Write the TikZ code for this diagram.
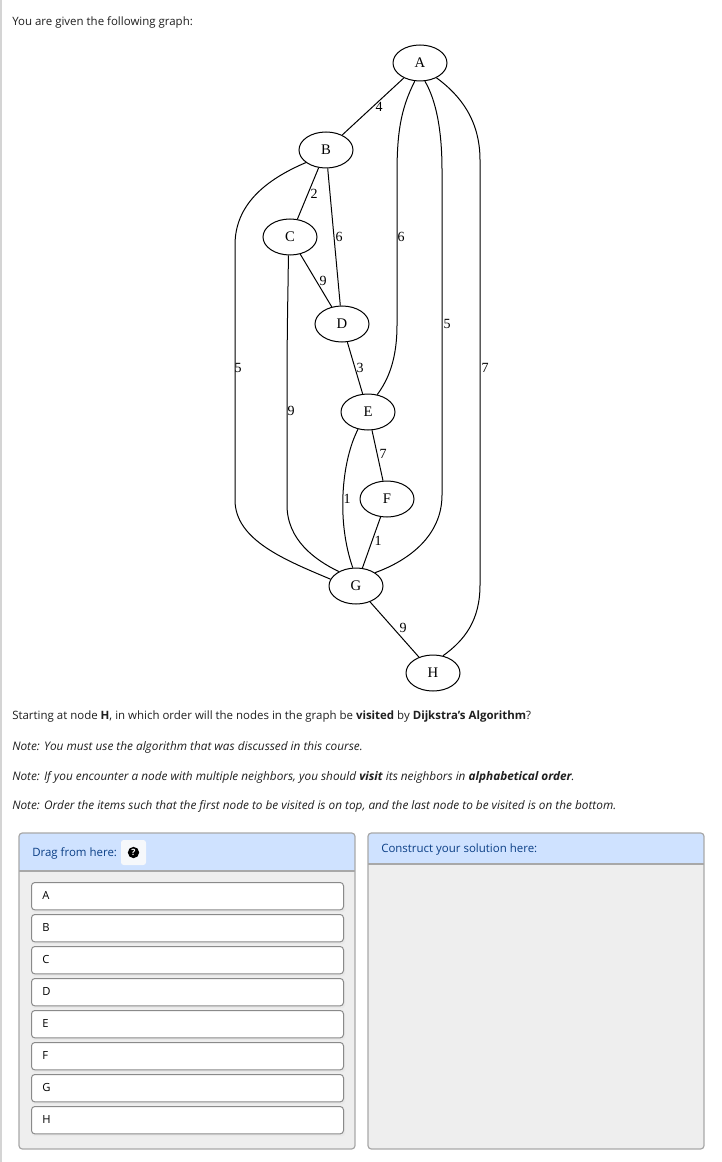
\documentclass[tikz,border=0pt]{standalone}
\usepackage{fontspec}
\setmainfont{Open Sans}
\newfontfamily\graphfont{Liberation Serif}
\usetikzlibrary{shapes.geometric}
\definecolor{headblue}{HTML}{CFE2FF}
\definecolor{headtext}{HTML}{0B3F86}
\definecolor{panelgray}{HTML}{EEEEEE}
\definecolor{panelborder}{HTML}{A8A8A8}
\definecolor{itemborder}{HTML}{8A8A8A}
\definecolor{pageline}{HTML}{D4D4D4}
\definecolor{btnbg}{HTML}{F6F8FB}
\begin{document}
\begin{tikzpicture}[x=0.75pt,y=-0.75pt,
  every node/.style={inner sep=0pt},
  uitext/.style={font=\fontsize{8.6}{10.5}\selectfont, text=black!88, anchor=west},
  notetext/.style={font=\fontsize{8.85}{10.5}\selectfont\itshape, text=black!88, anchor=west},
  gnode/.style={ellipse, draw, line width=0.75pt, minimum width=40.5pt, minimum height=27pt, font=\graphfont\fontsize{11}{12}\selectfont},
  gedge/.style={line width=0.75pt},
  elab/.style={font=\graphfont\fontsize{10.5}{12}\selectfont},
  item/.style={draw=itemborder, fill=white, rounded corners=2.5pt, line width=0.75pt, minimum width=234pt, minimum height=20.5pt},
  itemtext/.style={font=\fontsize{8.4}{10}\selectfont, anchor=west},
  headlabel/.style={font=\fontsize{8.6}{10.5}\selectfont, text=headtext, anchor=west}
]
\useasboundingbox (0,0) rectangle (721,1162);
\fill[white] (0,0) rectangle (721,1162);
\draw[pageline, line width=1.5pt] (1,0) -- (1,1162);

\node[uitext] (intro) at (12,22) {You are given the following graph:};

% graph nodes
\node[gnode] (A) at (420,63) {A};
\node[gnode] (B) at (326,150) {B};
\node[gnode] (C) at (290,237) {C};
\node[gnode] (D) at (342,324) {D};
\node[gnode] (E) at (368,412) {E};
\node[gnode] (F) at (387,499) {F};
\node[gnode] (G) at (356,586) {G};
\node[gnode] (H) at (433,673) {H};

% straight edges
\draw[gedge] (A) -- (B);
\draw[gedge] (B) -- (C);
\draw[gedge] (B) -- (D);
\draw[gedge] (C) -- (D);
\draw[gedge] (D) -- (E);
\draw[gedge] (E) -- (F);
\draw[gedge] (F) -- (G);
\draw[gedge] (G) -- (H);
% curved edges
\draw[gedge] (A.254) .. controls (400,110) and (397,135) .. (397,175) -- (397,325) .. controls (397,360) and (388,380) .. (E.62);
\draw[gedge] (A.285) .. controls (436,100) and (442,130) .. (442,170) -- (442,495) .. controls (442,535) and (410,560) .. (G.35);
\draw[gedge] (A.318) .. controls (460,95) and (480,120) .. (480,160) -- (480,585) .. controls (480,620) and (465,640) .. (H.60);
\draw[gedge] (B.212) .. controls (265,180) and (235,205) .. (235,245) -- (235,500) .. controls (235,540) and (285,560) .. (G.165);
\draw[gedge] (C.265) .. controls (288,300) and (287,320) .. (287,400) -- (287,505) .. controls (287,540) and (315,560) .. (G.140);
\draw[gedge] (E.240) .. controls (342,460) and (336,520) .. (G.100);

% edge labels
\node[elab] (lAB) at (379,107) {4};
\node[elab] (lBC) at (314,194) {2};
\node[elab] (lBD) at (339,237) {6};
\node[elab] (lAE) at (401,237) {6};
\node[elab] (lCD) at (323,281) {9};
\node[elab] (lAG) at (447,324) {5};
\node[elab] (lBG) at (238,368) {5};
\node[elab] (lDE) at (360,368) {3};
\node[elab] (lAH) at (485,368) {7};
\node[elab] (lCG) at (291,411) {9};
\node[elab] (lEF) at (383,454) {7};
\node[elab] (lEG) at (347,499) {1};
\node[elab] (lFG) at (378,541) {1};
\node[elab] (lGH) at (403,628) {9};

% question text
\node[uitext] (q1) at (12,717) {Starting at node \textbf{H}, in which order will the nodes in the graph be \textbf{visited} by \textbf{Dijkstra's Algorithm}?};
\node[notetext] (q2) at (12,747) {Note: You must use the algorithm that was discussed in this course.};
\node[notetext] (q3) at (12,777) {Note: If you encounter a node with multiple neighbors, you should \textbf{visit} its neighbors in \textbf{alphabetical order}.};
\node[notetext] (q4) at (12,806) {Note: Order the items such that the first node to be visited is on top, and the last node to be visited is on the bottom.};

% left panel
\begin{scope}
  \clip[rounded corners=2.5pt] (19,833) rectangle (355,1149);
  \fill[panelgray] (19,833) rectangle (355,1149);
  \fill[headblue] (19,833) rectangle (355,871);
\end{scope}
\draw[panelborder, line width=0.9pt] (19,871) -- (355,871);
\draw[panelborder, line width=0.9pt, rounded corners=2.5pt] (19,833) rectangle (355,1149);
\node[headlabel] (drag) at (32,853) {Drag from here:};
\fill[btnbg, rounded corners=2pt] (121,840) rectangle (146,865);
\node[circle, fill=black, minimum size=8.5pt, text=white, font=\bfseries\fontsize{6.5}{7}\selectfont] (help) at (133.5,852.5) {?};

\foreach \t [count=\i from 0] in {A,B,C,D,E,F,G,H} {
  \fill[black!9, rounded corners=2pt] (32,885+32*\i) rectangle (345,912+32*\i);
  \node[item, anchor=north west] (box\t) at (31,882+32*\i) {};
  \node[itemtext] (txt\t) at (42,895.5+32*\i) {\t};
}

% right panel
\begin{scope}
  \clip[rounded corners=2.5pt] (368,833) rectangle (704,1149);
  \fill[panelgray] (368,833) rectangle (704,1149);
  \fill[headblue] (368,833) rectangle (704,864);
\end{scope}
\draw[panelborder, line width=0.9pt] (368,864) -- (704,864);
\draw[panelborder, line width=0.9pt, rounded corners=2.5pt] (368,833) rectangle (704,1149);
\node[headlabel] (construct) at (381,850) {Construct your solution here:};
\end{tikzpicture}
\end{document}
